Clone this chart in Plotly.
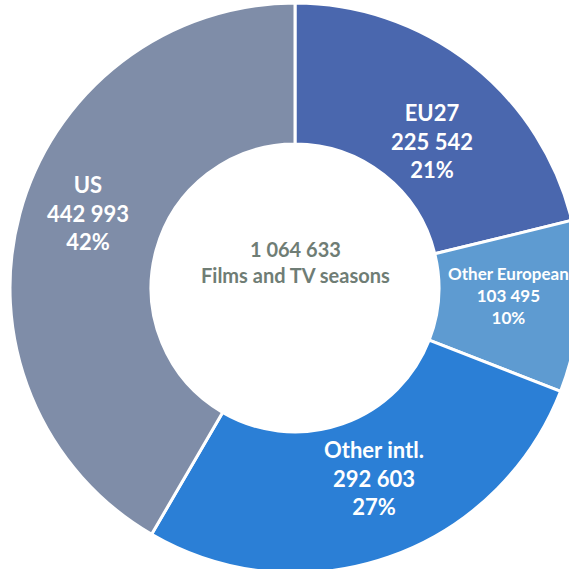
import plotly.graph_objects as go

# Data
categories = ["EU27", "Other European", "Other intl.", "US"]
values = [225542, 103495, 292603, 442993]
colors = ["#4A67AE", "#5E9BD1", "#2B7FD6", "#7F8DA8"]
center_caption = "Films and TV seasons"

# Layout: label anchor positions (pixels) and font sizes
label_pos = [(432, 141), (508, 295), (374, 478), (88, 213)]
label_size = [22, 17, 22, 22]

total = sum(values)

W, H = 600, 600
cx, cy, r = 295, 288, 285


def fmt(n):
    return f"{n:,}".replace(",", " ")


fig = go.Figure(go.Pie(
    labels=categories,
    values=values,
    hole=0.505,
    sort=False,
    direction="clockwise",
    rotation=0,
    marker=dict(colors=colors, line=dict(color="white", width=3)),
    textinfo="none",
    hoverinfo="label+value+percent",
    showlegend=False,
    domain=dict(x=[(cx - r) / W, (cx + r) / W], y=[1 - (cy + r) / H, 1 - (cy - r) / H]),
))

for cat, val, (px, py), fs in zip(categories, values, label_pos, label_size):
    pct = round(100 * val / total)
    fig.add_annotation(
        x=px / W, y=1 - py / H, xref="paper", yref="paper",
        xanchor="center", yanchor="middle",
        text=f"<b>{cat}<br>{fmt(val)}<br>{pct}%</b>",
        showarrow=False,
        font=dict(family="Lato", size=fs, color="white"),
    )

fig.add_annotation(
    x=cx / W, y=1 - 262 / H, xref="paper", yref="paper",
    xanchor="center", yanchor="middle",
    text=f"<b>{fmt(total)}<br>{center_caption}</b>",
    showarrow=False,
    font=dict(family="Lato", size=20, color="#6F7D75"),
)

fig.update_layout(
    width=W, height=H,
    margin=dict(l=0, r=0, t=0, b=0),
    paper_bgcolor="white",
    plot_bgcolor="white",
)

fig.write_html(
    "out.html",
    config={"displayModeBar": False},
    post_script="document.body.style.margin='0';document.body.style.overflow='hidden';",
)
